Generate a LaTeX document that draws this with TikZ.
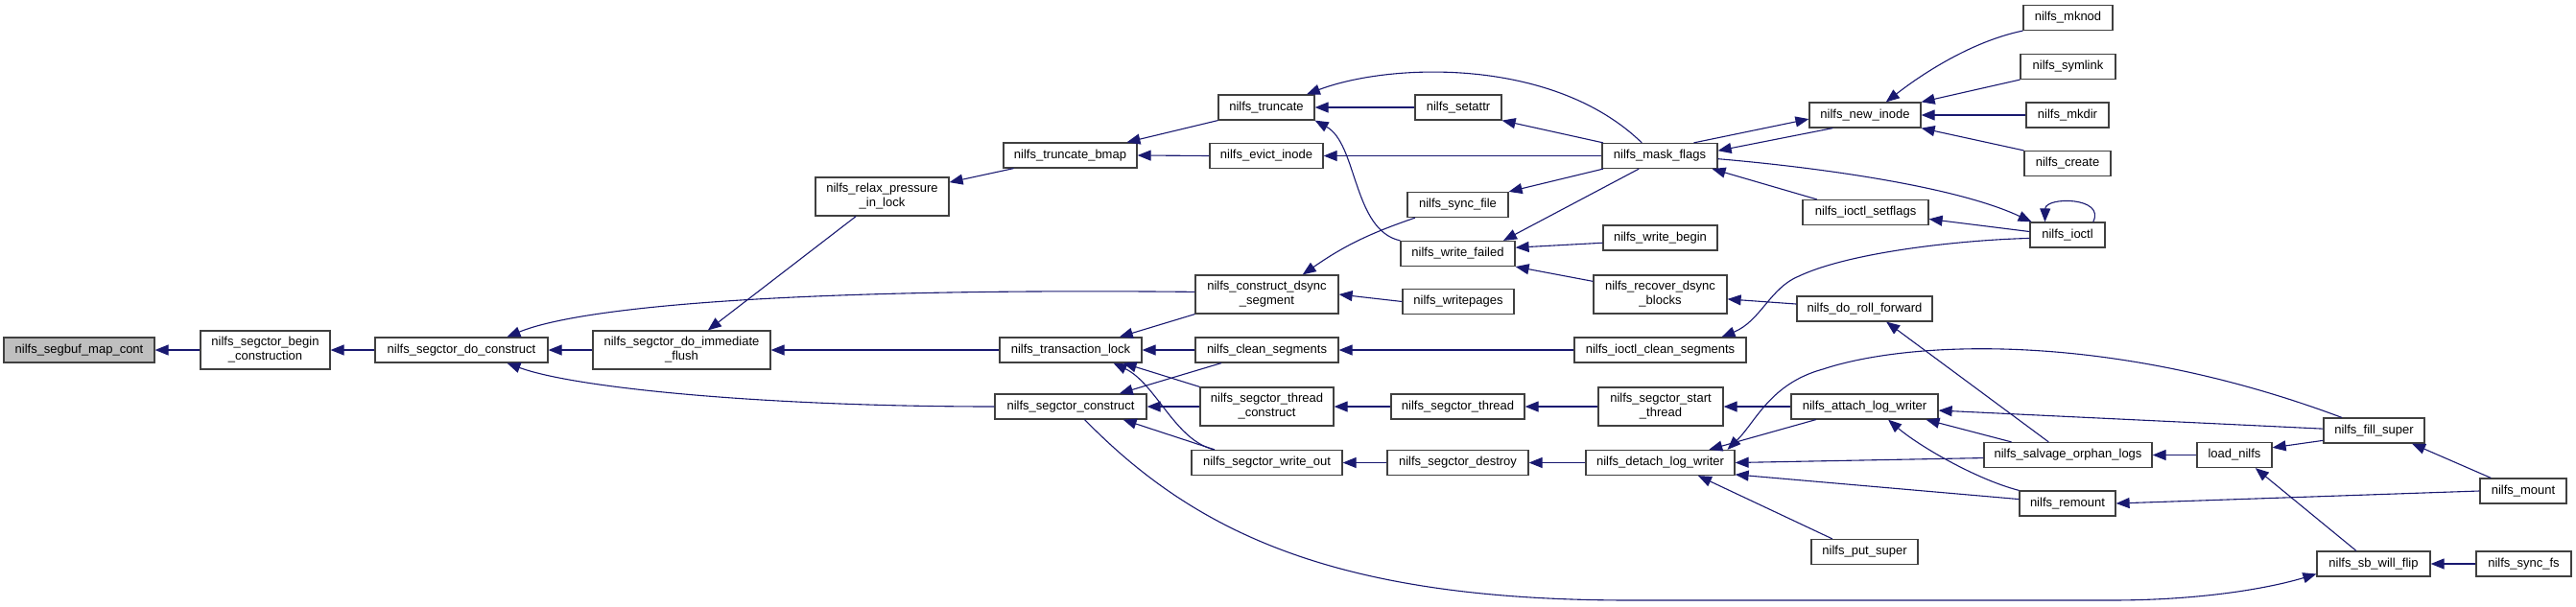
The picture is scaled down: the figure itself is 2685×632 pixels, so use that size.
\documentclass[tikz,border=0pt]{standalone}
\usepackage{fontspec}
\setmainfont{Liberation Sans}
\usetikzlibrary{arrows.meta}
\definecolor{edgenavy}{HTML}{191970}
\definecolor{boxline}{HTML}{404040}
\definecolor{rootgrey}{HTML}{BFBFBF}
\tikzset{
  fnbox/.style={draw=boxline, line width=1.2pt, fill=white, inner sep=0pt,
                minimum height=26pt, align=center, font=\fontsize{13}{15}\selectfont},
  twoline/.style={fnbox, minimum height=40pt},
  rootbox/.style={fnbox, fill=rootgrey},
  callarrow/.style={draw=edgenavy, line width=1.1pt, {Triangle[length=14pt,width=11pt]}-}
}

\begin{document}
\begin{tikzpicture}[x=1pt, y=-1pt]
  \useasboundingbox (0,0) rectangle (2685,632);

  \node[rootbox, minimum width=157] (segbuf) at (82.5,365) {nilfs\_segbuf\_map\_cont};
  \node[twoline, minimum width=135] (begincons) at (276.5,365) {nilfs\_segctor\_begin\\\_construction};
  \node[fnbox, minimum width=180] (doconstruct) at (481,365) {nilfs\_segctor\_do\_construct};
  \node[twoline, minimum width=185] (immflush) at (710.5,365) {nilfs\_segctor\_do\_immediate\\\_flush};
  \node[twoline, minimum width=139] (relax) at (919.5,205) {nilfs\_relax\_pressure\\\_in\_lock};
  \node[fnbox, minimum width=148] (translock) at (1116,365) {nilfs\_transaction\_lock};
  \node[fnbox, minimum width=158] (segconstruct) at (1116,424) {nilfs\_segctor\_construct};
  \node[fnbox, minimum width=139] (truncbmap) at (1115.5,162) {nilfs\_truncate\_bmap};

  \node[fnbox, minimum width=100] (truncate) at (1320,112) {nilfs\_truncate};
  \node[fnbox, minimum width=118] (evict) at (1320,162.5) {nilfs\_evict\_inode};
  \node[twoline, minimum width=149] (dsyncseg) at (1320.5,307) {nilfs\_construct\_dsync\\\_segment};
  \node[fnbox, minimum width=149] (cleanseg) at (1320.5,365) {nilfs\_clean\_segments};
  \node[twoline, minimum width=139] (threadcons) at (1320.5,424) {nilfs\_segctor\_thread\\\_construct};
  \node[fnbox, minimum width=157] (writeout) at (1320.5,482.5) {nilfs\_segctor\_write\_out};

  \node[fnbox, minimum width=90] (setattr) at (1520,112) {nilfs\_setattr};
  \node[fnbox, minimum width=105] (syncfile) at (1519.5,213.5) {nilfs\_sync\_file};
  \node[fnbox, minimum width=119] (writefailed) at (1519.5,264.5) {nilfs\_write\_failed};
  \node[fnbox, minimum width=116] (writepages) at (1520,314.5) {nilfs\_writepages};
  \node[fnbox, minimum width=139] (segthread) at (1519.5,424) {nilfs\_segctor\_thread};
  \node[fnbox, minimum width=147] (segdestroy) at (1519.5,482.5) {nilfs\_segctor\_destroy};

  \node[fnbox, minimum width=120] (maskflags) at (1730,162.5) {nilfs\_mask\_flags};
  \node[fnbox, minimum width=119] (writebegin) at (1730.5,248) {nilfs\_write\_begin};
  \node[twoline, minimum width=139] (recdsync) at (1730.5,307) {nilfs\_recover\_dsync\\\_blocks};
  \node[fnbox, minimum width=179] (ioctlclean) at (1730.5,365) {nilfs\_ioctl\_clean\_segments};
  \node[twoline, minimum width=130] (startthread) at (1731,424) {nilfs\_segctor\_start\\\_thread};
  \node[fnbox, minimum width=155] (detachlw) at (1730.5,482.5) {nilfs\_detach\_log\_writer};

  \node[fnbox, minimum width=116] (newinode) at (1944,120) {nilfs\_new\_inode};
  \node[fnbox, minimum width=131] (setflags) at (1944.5,221.5) {nilfs\_ioctl\_setflags};
  \node[fnbox, minimum width=141] (rollfwd) at (1943.5,322) {nilfs\_do\_roll\_forward};
  \node[fnbox, minimum width=153] (attachlw) at (1943.5,424) {nilfs\_attach\_log\_writer};
  \node[fnbox, minimum width=111] (putsuper) at (1943.5,575.5) {nilfs\_put\_super};

  \node[fnbox, minimum width=93] (mknod) at (2155.5,18.5) {nilfs\_mknod};
  \node[fnbox, minimum width=99] (symlink) at (2155.5,69.5) {nilfs\_symlink};
  \node[fnbox, minimum width=86] (mkdir) at (2155,120) {nilfs\_mkdir};
  \node[fnbox, minimum width=90] (create) at (2155,170.5) {nilfs\_create};
  \node[fnbox, minimum width=78] (ioctl) at (2155,245) {nilfs\_ioctl};
  \node[fnbox, minimum width=175] (salvage) at (2155.5,474.5) {nilfs\_salvage\_orphan\_logs};
  \node[fnbox, minimum width=100] (remount) at (2155,525) {nilfs\_remount};

  \node[fnbox, minimum width=78] (loadnilfs) at (2329,474.5) {load\_nilfs};
  \node[fnbox, minimum width=105] (fillsuper) at (2474.5,449) {nilfs\_fill\_super};
  \node[fnbox, minimum width=118] (sbflip) at (2474,588) {nilfs\_sb\_will\_flip};
  \node[fnbox, minimum width=90] (mount) at (2630,512) {nilfs\_mount};
  \node[fnbox, minimum width=99] (syncfs) at (2630.5,588) {nilfs\_sync\_fs};

  \draw[callarrow] (segbuf.east) -- (begincons.west);
  \draw[callarrow] (begincons.east) -- (doconstruct.west);
  \draw[callarrow] (doconstruct.east) -- (immflush.west);
  \draw[callarrow] (doconstruct.16) .. controls (600,322) and (800,300) .. (dsyncseg.178);
  \draw[callarrow] (doconstruct.-16) .. controls (600,405) and (800,424) .. (segconstruct.west);
  \draw[callarrow] (immflush.37) -- (relax.-143);
  \draw[callarrow] (immflush.east) -- (translock.west);
  \draw[callarrow] (relax.12) -- (truncbmap.-167);
  \draw[callarrow] (truncbmap.13) -- (truncate.south west);
  \draw[callarrow] (truncbmap.east) -- (evict.west);

  \draw[callarrow] (translock.15) -- (dsyncseg.south west);
  \draw[callarrow] (translock.east) -- (cleanseg.west);
  \draw[callarrow] (translock.-14) -- (threadcons.north west);
  \draw[callarrow] (translock.-17) .. controls (1205,400) and (1225,460) .. (writeout.166);
  \draw[callarrow] (segconstruct.15) -- (cleanseg.-164);
  \draw[callarrow] (segconstruct.east) -- (threadcons.west);
  \draw[callarrow] (segconstruct.-14) -- (writeout.166);
  \draw[callarrow] (sbflip.-170) .. controls (2370,612) and (2300,626) .. (2200,626)
    -- (1700,626) .. controls (1400,626) and (1250,560) .. (segconstruct.-43);

  \draw[callarrow] (truncate.east) -- (setattr.west);
  \draw[callarrow] (truncate.18) .. controls (1450,65) and (1620,60) .. (maskflags.144);
  \draw[callarrow] (truncate.south east) .. controls (1415,150) and (1410,240) .. (writefailed.north west);
  \draw[callarrow] (evict.east) -- (maskflags.west);
  \draw[callarrow] (setattr.south east) -- (maskflags.167);
  \draw[callarrow] (syncfile.north east) -- (maskflags.-167);
  \draw[callarrow] (writefailed.16) -- (maskflags.-148);
  \draw[callarrow] (dsyncseg.29) to[bend left=8] (syncfile.-163);
  \draw[callarrow] (dsyncseg.east) -- (writepages.west);
  \draw[callarrow] (writefailed.6) -- (writebegin.-175);
  \draw[callarrow] (writefailed.south east) -- (recdsync.169);

  \draw[callarrow] (newinode.-176) -- (maskflags.21);
  \draw[callarrow] (maskflags.5) -- (newinode.-158);
  \draw[callarrow] (maskflags.-14) -- (setflags.165);
  \draw[callarrow] (ioctl.160) .. controls (2040,195) and (1900,175) .. (maskflags.-3);
  \draw[callarrow] (ioctl.150) .. controls (2132,205) and (2195,205) .. (ioctl.27);
  \draw[callarrow] (setflags.-6) -- (ioctl.175);
  \draw[callarrow] (ioctlclean.12) .. controls (1835,335) and (1845,300) .. (1875,288)
    .. controls (1930,262) and (2050,250) .. (ioctl.185);
  \draw[callarrow] (newinode.32) .. controls (2010,72) and (2060,42) .. (mknod.south west);
  \draw[callarrow] (newinode.north east) -- (symlink.south west);
  \draw[callarrow] (newinode.east) -- (mkdir.west);
  \draw[callarrow] (newinode.south east) -- (create.north west);

  \draw[callarrow] (cleanseg.east) -- (ioctlclean.west);
  \draw[callarrow] (recdsync.-4) -- (rollfwd.176);
  \draw[callarrow] (rollfwd.-31) -- (salvage.146);
  \draw[callarrow] (threadcons.east) -- (segthread.west);
  \draw[callarrow] (segthread.east) -- (startthread.west);
  \draw[callarrow] (startthread.east) -- (attachlw.west);
  \draw[callarrow] (writeout.east) -- (segdestroy.west);
  \draw[callarrow] (segdestroy.east) -- (detachlw.west);

  \draw[callarrow] (detachlw.15) -- (attachlw.-165);
  \draw[callarrow] (detachlw.11) .. controls (1830,440) and (1845,400) .. (1900,385)
    .. controls (1990,355) and (2200,345) .. (fillsuper.158);
  \draw[callarrow] (detachlw.east) -- (salvage.-178);
  \draw[callarrow] (detachlw.-9) -- (remount.175);
  \draw[callarrow] (detachlw.-19) -- (putsuper.158);
  \draw[callarrow] (attachlw.-3) -- (fillsuper.178);
  \draw[callarrow] (attachlw.-12) -- (salvage.167);
  \draw[callarrow] (attachlw.-29) .. controls (2000,465) and (2060,500) .. (remount.north west);

  \draw[callarrow] (salvage.east) -- (loadnilfs.west);
  \draw[callarrow] (loadnilfs.11) -- (fillsuper.-169);
  \draw[callarrow] (loadnilfs.-32) -- (sbflip.143);
  \draw[callarrow] (fillsuper.-19) -- (mount.158);
  \draw[callarrow] (remount.east) -- (mount.west);
  \draw[callarrow] (sbflip.east) -- (syncfs.west);
\end{tikzpicture}
\end{document}
